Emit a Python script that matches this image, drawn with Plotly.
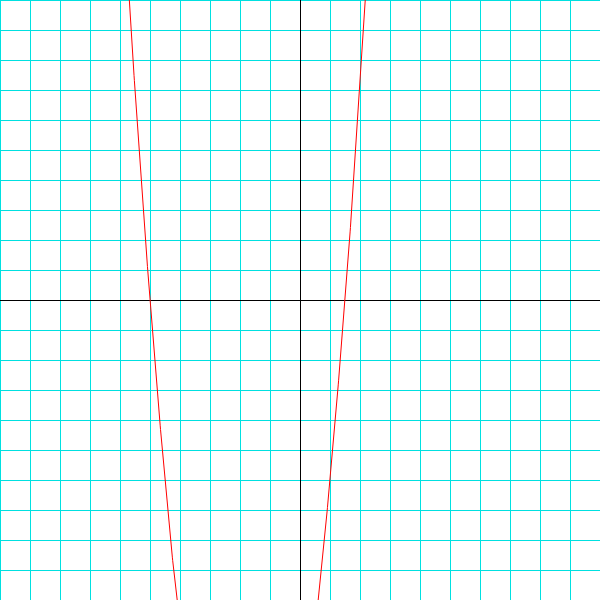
import numpy as np
import plotly.graph_objects as go

# Quadratic: y = 2x^2 + 7x - 15 = (2x-3)(x+5)
coefficients = [2.0, 7.0, -15.0]
x_min, x_max = -6.0, 2.5
x_range = [-10, 10]
y_range = [-10, 10]
grid_color = "#00e0e0"

x = np.linspace(x_min, x_max, 800)
y = np.polyval(coefficients, x)

fig = go.Figure()
fig.add_trace(go.Scatter(x=x, y=y, mode="lines",
                         line=dict(color="#ff0000", width=1), hoverinfo="skip"))

axis_common = dict(
    showgrid=True, gridcolor=grid_color, gridwidth=1, dtick=1, tick0=0,
    zeroline=True, zerolinecolor="#000000", zerolinewidth=1,
    showticklabels=False, ticks="", showline=False,
)
fig.update_xaxes(range=x_range, **axis_common)
fig.update_yaxes(range=y_range, **axis_common)

# grid lines at the left (x=-10) and top (y=10) edges of the plot
fig.add_shape(type="line", xref="x", yref="paper", x0=x_range[0], x1=x_range[0],
              y0=0, y1=1, line=dict(color=grid_color, width=2), layer="below")
fig.add_shape(type="line", xref="paper", yref="y", x0=0, x1=1,
              y0=y_range[1], y1=y_range[1], line=dict(color=grid_color, width=2), layer="below")

fig.update_layout(
    width=600, height=600, margin=dict(l=0, r=0, t=0, b=0),
    paper_bgcolor="white", plot_bgcolor="white", showlegend=False,
)
fig.write_html("out.html", config={"displayModeBar": False})
